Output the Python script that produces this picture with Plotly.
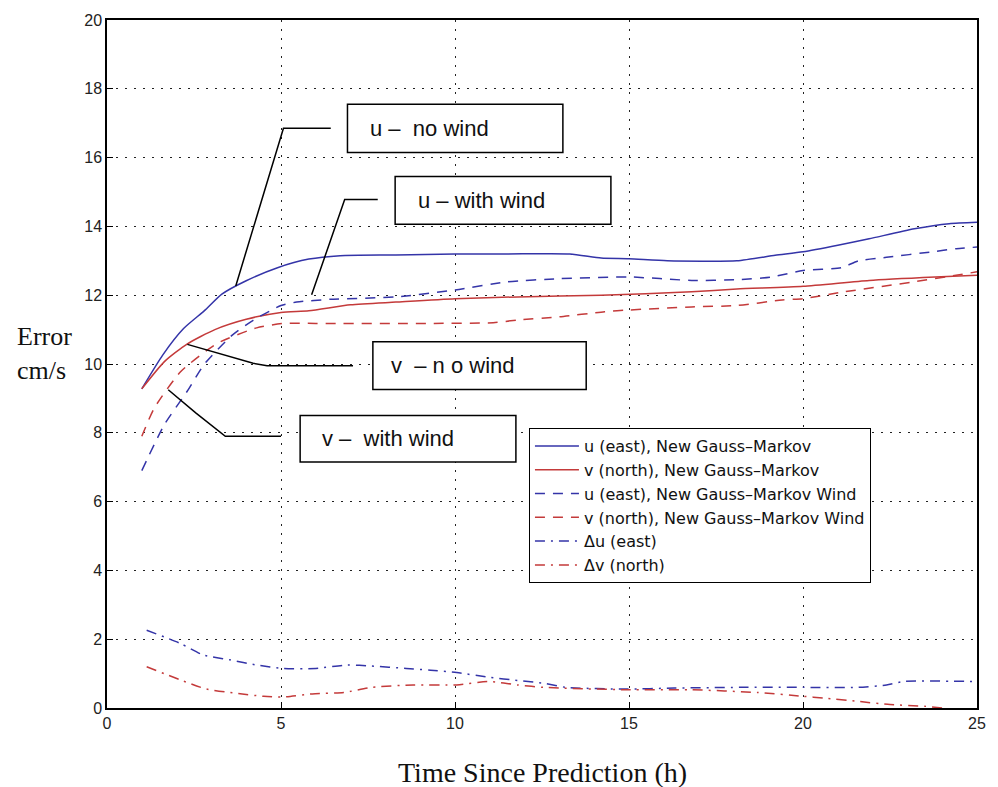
import plotly.graph_objects as go

# ---------------- data ----------------
x_ticks = [0, 5, 10, 15, 20, 25]
y_ticks = [0, 2, 4, 6, 8, 10, 12, 14, 16, 18, 20]

u_nw_x = [1.0, 1.6, 2.2, 2.8, 3.3, 4.0, 4.9, 5.8, 6.7, 8.3, 10.0, 11.5, 13.3, 14.2, 15.0, 16.1, 18.1, 19.2, 20.0, 21.0, 21.9, 23.2, 24.2, 25.0]
u_nw_y = [9.28, 10.26, 11.03, 11.55, 12.03, 12.42, 12.8, 13.05, 13.15, 13.17, 13.2, 13.2, 13.2, 13.08, 13.06, 13.0, 13.0, 13.16, 13.26, 13.45, 13.64, 13.93, 14.08, 14.12]

v_nw_x = [1.0, 1.65, 2.3, 3.1, 4.0, 5.0, 5.8, 7.0, 8.3, 10.0, 11.8, 14.2, 16.8, 18.1, 20.0, 21.9, 23.8, 25.0]
v_nw_y = [9.28, 10.07, 10.58, 11.0, 11.3, 11.5, 11.55, 11.72, 11.8, 11.9, 11.95, 12.0, 12.1, 12.18, 12.26, 12.43, 12.53, 12.58]

u_w_x = [1.0, 1.65, 2.3, 2.8, 3.6, 4.2, 5.0, 5.45, 6.4, 8.3, 10.0, 11.5, 13.0, 15.0, 16.8, 18.1, 19.1, 20.0, 21.1, 21.6, 22.4, 23.7, 24.4, 25.0]
u_w_y = [6.9, 8.24, 9.2, 10.0, 10.84, 11.27, 11.7, 11.8, 11.88, 11.95, 12.15, 12.39, 12.48, 12.53, 12.43, 12.45, 12.53, 12.72, 12.8, 13.0, 13.1, 13.26, 13.35, 13.4]

v_w_x = [1.0, 1.36, 2.12, 3.17, 4.3, 5.07, 6.0, 9.2, 11.1, 11.8, 13.0, 14.3, 15.0, 16.8, 18.1, 19.4, 20.0, 21.2, 23.2, 24.4, 25.0]
v_w_y = [7.9, 8.72, 9.78, 10.6, 11.05, 11.18, 11.18, 11.18, 11.2, 11.28, 11.37, 11.52, 11.57, 11.66, 11.7, 11.86, 11.9, 12.1, 12.39, 12.58, 12.68]

du_x = [1.14, 2.1, 2.77, 3.53, 4.3, 5.07, 6.0, 6.9, 7.6, 8.6, 9.3, 10.05, 11.0, 11.8, 12.55, 13.2, 14.9, 16.3, 18.2, 20.0, 21.6, 22.4, 22.9, 25.0]
du_y = [2.26, 1.88, 1.54, 1.4, 1.25, 1.15, 1.15, 1.25, 1.22, 1.15, 1.1, 1.03, 0.89, 0.8, 0.72, 0.6, 0.55, 0.58, 0.6, 0.6, 0.6, 0.67, 0.77, 0.77]

dv_x = [1.14, 2.1, 2.86, 3.7, 4.5, 5.07, 5.9, 6.8, 7.6, 8.8, 10.05, 11.0, 11.8, 12.55, 14.9, 16.8, 18.7, 20.0, 20.6, 21.6, 22.5, 23.5, 24.0]
dv_y = [1.2, 0.82, 0.55, 0.43, 0.34, 0.32, 0.41, 0.45, 0.6, 0.67, 0.67, 0.77, 0.67, 0.6, 0.53, 0.53, 0.45, 0.34, 0.29, 0.19, 0.1, 0.05, 0.0]

series_names = [
    "u (east), New Gauss\u2013Markov",
    "v (north), New Gauss\u2013Markov",
    "u (east), New Gauss\u2013Markov Wind",
    "v (north), New Gauss\u2013Markov Wind",
    "\u0394u (east)",
    "\u0394v (north)",
]

# callout labels: text, box (x0, x1, y0, y1), text x, leader path points
callouts = [
    ("u \u2013  no wind", (6.91, 13.1, 16.15, 17.55), 7.5, [(3.7, 12.27), (5.07, 16.85), (6.43, 16.85)]),
    ("u \u2013 with wind", (8.28, 14.48, 14.06, 15.45), 8.87, [(5.88, 12.01), (6.83, 14.78), (7.78, 14.78)]),
    ("v  \u2013 n o wind", (7.64, 13.77, 9.26, 10.65), 8.11, [(2.31, 10.57), (4.2, 10.02), (4.6, 9.95), (7.07, 9.95)]),
    ("v \u2013  with wind", (5.55, 11.75, 7.15, 8.5), 6.12, [(1.76, 9.25), (2.55, 8.58), (3.4, 7.9), (5.0, 7.9)]),
]

BLUE = "#3434a8"
RED = "#c43a3a"

fig = go.Figure()
styles = [
    (u_nw_x, u_nw_y, BLUE, "solid"),
    (v_nw_x, v_nw_y, RED, "solid"),
    (u_w_x, u_w_y, BLUE, "10px,8px"),
    (v_w_x, v_w_y, RED, "10px,8px"),
    (du_x, du_y, BLUE, "10px,6px,2px,6px"),
    (dv_x, dv_y, RED, "10px,6px,2px,6px"),
]
for (xs, ys, col, dash), name in zip(styles, series_names):
    fig.add_trace(go.Scatter(
        x=xs, y=ys, mode="lines", name=name,
        line=dict(color=col, width=1.5, dash=dash, shape="spline", smoothing=0.6),
    ))

shapes = []
annotations = []
for text, (bx0, bx1, by0, by1), tx, pts in callouts:
    path = "M " + " L ".join(f"{px},{py}" for px, py in pts)
    shapes.append(dict(type="path", path=path, xref="x", yref="y",
                       line=dict(color="black", width=1.5), layer="above"))
    shapes.append(dict(type="rect", x0=bx0, x1=bx1, y0=by0, y1=by1, xref="x", yref="y",
                       line=dict(color="black", width=1.5), fillcolor="white", layer="above"))
    annotations.append(dict(x=tx, y=(by0 + by1) / 2, xref="x", yref="y", text=text,
                            showarrow=False, xanchor="left", yanchor="middle",
                            font=dict(family="Liberation Sans", size=22, color="#111")))

annotations.append(dict(x=-0.072, y=0.515, xref="paper", yref="paper",
                        text="Error<br>cm/s", showarrow=False, align="left",
                        xanchor="center", yanchor="middle",
                        font=dict(family="Liberation Serif", size=26, color="#111")))
annotations.append(dict(x=0.5, y=-0.094, xref="paper", yref="paper",
                        text="Time Since Prediction (h)", showarrow=False,
                        xanchor="center", yanchor="middle",
                        font=dict(family="Liberation Serif", size=28, color="#111")))

axis_common = dict(
    showline=True, mirror=True, linecolor="black", linewidth=1.5,
    ticks="inside", ticklen=6, tickcolor="black", tickwidth=1,
    showgrid=True, gridcolor="#222", gridwidth=1, griddash="2px,7px",
    zeroline=False,
    tickfont=dict(family="Liberation Sans", size=16, color="#222"),
)

fig.update_layout(
    width=998, height=787,
    margin=dict(l=107, r=14, t=15, b=79),
    paper_bgcolor="white", plot_bgcolor="white",
    xaxis=dict(range=[0, 25], tickvals=x_ticks, ticktext=[str(v) for v in x_ticks], **axis_common),
    yaxis=dict(range=[0, 20], tickvals=y_ticks, ticktext=[str(v) for v in y_ticks], **axis_common),
    legend=dict(x=0.485, y=0.407, xanchor="left", yanchor="top",
                bgcolor="white", bordercolor="black", borderwidth=1,
                font=dict(family="DejaVu Sans", size=16, color="#111"),
                itemwidth=44),
    shapes=shapes, annotations=annotations, showlegend=True,
)

fig.write_html("out.html")
